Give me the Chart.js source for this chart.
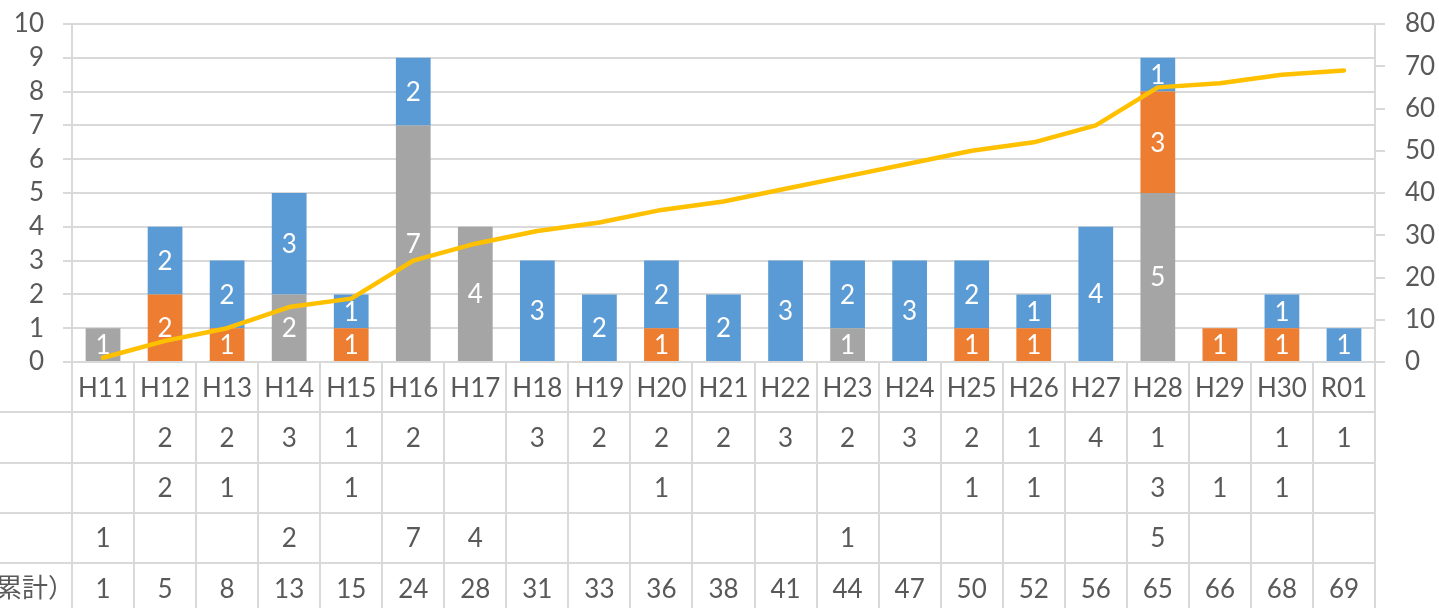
<!DOCTYPE html>
<html><head><meta charset="utf-8">
<script src="https://cdn.jsdelivr.net/npm/chart.js@4"></script>
<style>html,body{margin:0;padding:0;background:#fff;overflow:hidden}#wrap{width:1439px;height:608px;position:relative}</style>
</head><body><div id="wrap"><canvas id="c"></canvas></div>
<script>
const categories = ['H11','H12','H13','H14','H15','H16','H17','H18','H19','H20','H21','H22','H23','H24','H25','H26','H27','H28','H29','H30','R01'];
const blueVals   = [null,2,2,3,1,2,null,3,2,2,2,3,2,3,2,1,4,1,null,1,1];
const orangeVals = [null,2,1,null,1,null,null,null,null,1,null,null,null,null,1,1,null,3,1,1,null];
const grayVals   = [1,null,null,2,null,7,4,null,null,null,null,null,1,null,null,null,null,5,null,null,null];
const cumulative = [1,5,8,13,15,24,28,31,33,36,38,41,44,47,50,52,56,65,66,68,69];
const leftTicks  = [0,1,2,3,4,5,6,7,8,9,10];
const rightTicks = [0,10,20,30,40,50,60,70,80];
const rowLabels  = ['', '', '', '件数（累計）'];

const FONT = 'Lato, "Noto Sans CJK JP", sans-serif';
const FS = 26;
const TXT = '#595959';
const GRID = '#D9D9D9';

const tablePlugin = {
  id: 'tablePlugin',
  afterDatasetsDraw(chart) {
    const ctx = chart.ctx;
    const x = chart.scales.x;
    const ca = chart.chartArea;
    const n = categories.length;
    const w = (ca.right - ca.left) / n;
    ctx.save();
    ctx.font = FS + 'px ' + FONT;
    ctx.fillStyle = '#fff';
    ctx.textAlign = 'center';
    ctx.textBaseline = 'middle';
    [0,1,2].forEach(di => {
      const meta = chart.getDatasetMeta(di);
      meta.data.forEach((el, i) => {
        const v = chart.data.datasets[di].data[i];
        if (v == null) return;
        const p = el.getProps(['x','y','base'], true);
        ctx.fillText(String(v), p.x, (p.y + p.base) / 2 + 1);
      });
    });
    ctx.restore();

    const top = ca.bottom;
    const rowH = 50.3;
    ctx.save();
    ctx.strokeStyle = GRID;
    ctx.lineWidth = 2;
    for (let k = 0; k <= n; k++) {
      const bx = Math.round(ca.left + k * w);
      ctx.beginPath();
      ctx.moveTo(bx, top);
      ctx.lineTo(bx, chart.height);
      ctx.stroke();
    }
    for (let r = 1; r <= 4; r++) {
      const y = Math.round(top + r * rowH);
      ctx.beginPath();
      ctx.moveTo(0, y);
      ctx.lineTo(ca.right, y);
      ctx.stroke();
    }
    ctx.fillStyle = TXT;
    ctx.font = FS + 'px ' + FONT;
    ctx.textAlign = 'center';
    ctx.textBaseline = 'middle';
    const rows = [blueVals, orangeVals, grayVals, cumulative];
    for (let i = 0; i < n; i++) {
      const cx = x.getPixelForValue(i);
      ctx.fillText(categories[i], cx, top + rowH * 0.5 + 1);
      rows.forEach((arr, r) => {
        const v = arr[i];
        if (v == null) return;
        ctx.fillText(String(v), cx, top + rowH * (r + 1.5) + 1);
      });
    }
    ctx.textAlign = 'right';
    ctx.font = '26px "Noto Sans CJK JP", sans-serif';
    rowLabels.forEach((lab, r) => {
      if (!lab) return;
      ctx.fillText(lab, 74, top + rowH * (r + 1.5) - 1);
    });
    ctx.restore();
  }
};

new Chart(document.getElementById('c'), {
  data: {
    labels: categories,
    datasets: [
      { type: 'bar', label: 'gray', data: grayVals, backgroundColor: '#A5A5A5', stack: 's', order: 1, yAxisID: 'y' },
      { type: 'bar', label: 'orange', data: orangeVals, backgroundColor: '#ED7D31', stack: 's', order: 1, yAxisID: 'y' },
      { type: 'bar', label: 'blue', data: blueVals, backgroundColor: '#5B9BD5', stack: 's', order: 1, yAxisID: 'y' },
      { type: 'line', label: '累計', data: cumulative, borderColor: '#FFC000', borderWidth: 4.5, pointRadius: 0, tension: 0, order: 0, yAxisID: 'y1', borderCapStyle: 'round', borderJoinStyle: 'round' }
    ]
  },
  options: {
    responsive: true,
    maintainAspectRatio: false,
    animation: false,
    devicePixelRatio: 1,
    layout: { padding: { top: 24, bottom: 238, left: 0, right: 0 } },
    plugins: { legend: { display: false }, tooltip: { enabled: false } },
    datasets: { bar: { barPercentage: 1, categoryPercentage: 0.56 } },
    scales: {
      x: {
        stacked: true,
        offset: true,
        ticks: { display: false },
        grid: { display: false },
        border: { display: false }
      },
      y: {
        position: 'left',
        stacked: true,
        min: 0, max: 10,
        afterBuildTicks: s => { s.ticks = leftTicks.map(v => ({ value: v })); },
        afterFit: s => { s.width = 72; s.paddingTop = 0; s.paddingBottom = 0; },
        ticks: { color: TXT, font: { size: FS, family: FONT }, padding: 19, autoSkip: false },
        grid: { color: GRID, lineWidth: 2, tickLength: 9, drawTicks: true },
        border: { display: true, color: GRID, width: 2 }
      },
      y1: {
        position: 'right',
        min: 0, max: 80,
        afterBuildTicks: s => { s.ticks = rightTicks.map(v => ({ value: v })); },
        afterFit: s => { s.width = 64; s.paddingTop = 0; s.paddingBottom = 0; },
        ticks: { color: TXT, font: { size: FS, family: FONT }, padding: 20, autoSkip: false },
        grid: { drawOnChartArea: false, color: GRID, lineWidth: 2, tickLength: 10 },
        border: { display: true, color: GRID, width: 2 }
      }
    }
  },
  plugins: [tablePlugin]
});
</script>
</body></html>
